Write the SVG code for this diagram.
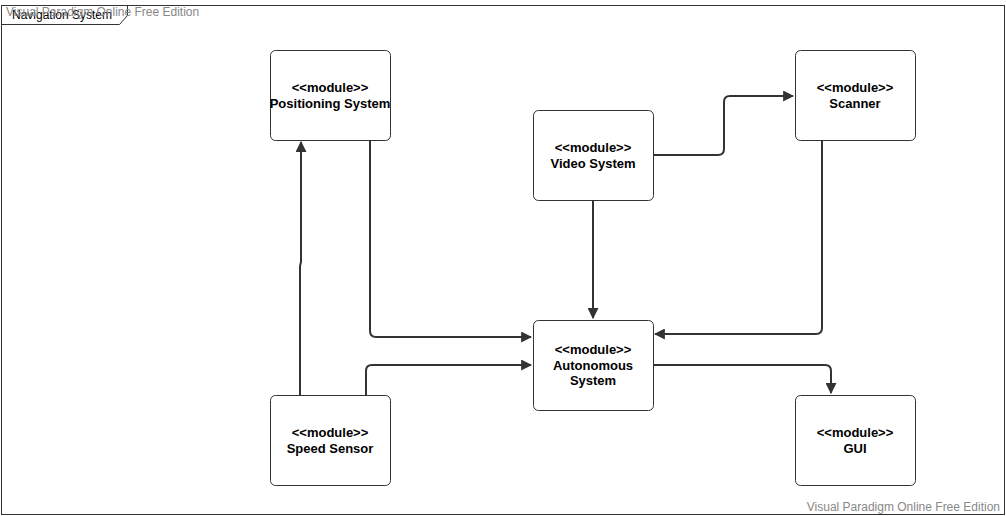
<svg xmlns="http://www.w3.org/2000/svg" width="1006" height="516" viewBox="0 0 1006 516">
<style>
.node rect{fill:#fff;stroke:#333;stroke-width:1}
.node text{font-family:"Liberation Sans",Arial,sans-serif;font-size:13px;font-weight:bold;fill:#000;text-anchor:middle}
.wm{font-family:"Liberation Sans",Arial,sans-serif;font-size:12px;fill:#888}
.conn path{fill:none;stroke:#333;stroke-width:2;stroke-linejoin:round}
</style>
<defs>
<marker id="arr" viewBox="0 0 10 10" refX="9" refY="5" markerWidth="5.5" markerHeight="5.5" orient="auto" markerUnits="strokeWidth"><path d="M0,0 L10,5 L0,10 z" fill="#333"/></marker>
</defs>
<rect x="0" y="0" width="1006" height="516" fill="#fff"/>
<g id="frame">
<rect x="1.5" y="5.5" width="1003" height="509" fill="none" stroke="#333"/>
<path d="M1.5,5.5 H127.5 V15.5 L119.5,24.5 H1.5" fill="none" stroke="#333"/>
<text x="12" y="19" font-family="Liberation Sans,Arial,sans-serif" font-size="12" fill="#000">Navigation System</text>
</g>
<text class="wm" x="6" y="16">Visual Paradigm Online Free Edition</text>
<text class="wm" x="1000" y="511" text-anchor="end">Visual Paradigm Online Free Edition</text>
<g class="conn" id="connectors">
<path d="M370,140 V331 Q370,337 376,337 H531" marker-end="url(#arr)"/>
<path d="M366,395 V371 Q366,365 372,365 H531" marker-end="url(#arr)"/>
<path d="M300,395 V266 L301,262 V142" marker-end="url(#arr)"/>
<path d="M593,200 V318" marker-end="url(#arr)"/>
<path d="M653,155 H718 Q724,155 724,149 V102 Q724,96 730,96 H793" marker-end="url(#arr)"/>
<path d="M822,140 V328 Q822,334 816,334 H655" marker-end="url(#arr)"/>
<path d="M653,365 H825 Q831,365 831,371 V393" marker-end="url(#arr)"/>
</g>
<g class="node" id="positioning"><rect x="270.5" y="50.5" width="120" height="90" rx="5"/><text x="330" y="92">&lt;&lt;module&gt;&gt;</text><text x="330" y="108">Positioning System</text></g>
<g class="node" id="video"><rect x="533.5" y="110.5" width="120" height="90" rx="5"/><text x="593" y="152">&lt;&lt;module&gt;&gt;</text><text x="593" y="168">Video System</text></g>
<g class="node" id="scanner"><rect x="795.5" y="50.5" width="120" height="90" rx="5"/><text x="855" y="92">&lt;&lt;module&gt;&gt;</text><text x="855" y="108">Scanner</text></g>
<g class="node" id="autonomous"><rect x="533.5" y="320.5" width="120" height="90" rx="5"/><text x="593" y="354">&lt;&lt;module&gt;&gt;</text><text x="593" y="370">Autonomous</text><text x="593" y="385">System</text></g>
<g class="node" id="speed"><rect x="270.5" y="395.5" width="120" height="90" rx="5"/><text x="330" y="437">&lt;&lt;module&gt;&gt;</text><text x="330" y="453">Speed Sensor</text></g>
<g class="node" id="gui"><rect x="795.5" y="395.5" width="120" height="90" rx="5"/><text x="855" y="437">&lt;&lt;module&gt;&gt;</text><text x="855" y="453">GUI</text></g>
</svg>
